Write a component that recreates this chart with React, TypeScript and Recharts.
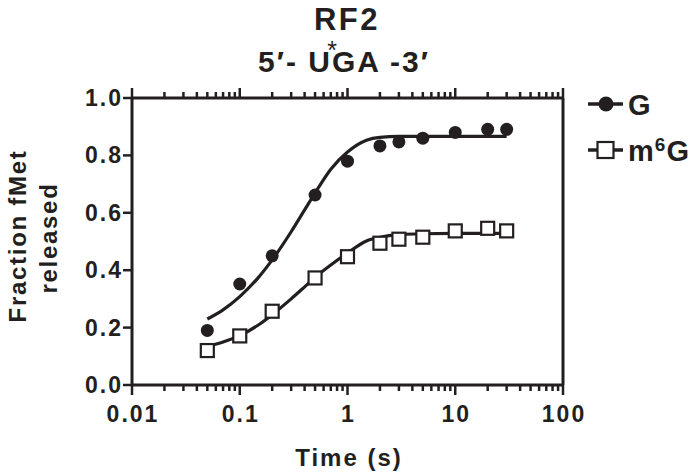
import React from 'react';
import { ComposedChart, Line, Scatter, XAxis, YAxis } from 'recharts';

const times = [0.05, 0.1, 0.2, 0.5, 1, 2, 3, 5, 10, 20, 30];
const gValues = [0.19, 0.352, 0.45, 0.662, 0.78, 0.833, 0.847, 0.86, 0.88, 0.891, 0.891];
const m6gValues = [0.12, 0.171, 0.257, 0.373, 0.447, 0.494, 0.508, 0.515, 0.537, 0.546, 0.537];

const fitTimes = [0.05, 0.07, 0.1, 0.15, 0.2, 0.3, 0.4, 0.5, 0.7, 1, 1.5, 2, 3, 5, 10, 20, 30];
const gFitValues = [0.23, 0.262, 0.308, 0.376, 0.436, 0.534, 0.61, 0.669, 0.752, 0.812, 0.853, 0.863, 0.866, 0.866, 0.866, 0.866, 0.866];
const m6gFitValues = [0.135, 0.15, 0.172, 0.21, 0.245, 0.3, 0.342, 0.375, 0.418, 0.46, 0.502, 0.515, 0.524, 0.527, 0.528, 0.528, 0.528];

const xMajorTicks = [0.01, 0.1, 1, 10, 100];
const xTickLabels = ['0.01', '0.1', '1', '10', '100'];
const xMinorTicks = [
  0.02, 0.03, 0.04, 0.05, 0.06, 0.07, 0.08, 0.09,
  0.2, 0.3, 0.4, 0.5, 0.6, 0.7, 0.8, 0.9,
  2, 3, 4, 5, 6, 7, 8, 9,
  20, 30, 40, 50, 60, 70, 80, 90,
];
const yTicks = [0, 0.2, 0.4, 0.6, 0.8, 1.0];
const yTickLabels = ['0.0', '0.2', '0.4', '0.6', '0.8', '1.0'];

const title = 'RF2';
const subtitle = '5\u2032- UGA -3\u2032';
const xTitle = 'Time (s)';
const yTitleLines = ['Fraction fMet', 'released'];
const seriesNames = ['G', 'm', '6', 'G'];

const INK = '#231f20';
const FONT = '"Liberation Sans", Arial, Helvetica, sans-serif';

const gPoints = times.map((t, i) => ({ x: t, y: gValues[i] }));
const m6gPoints = times.map((t, i) => ({ x: t, y: m6gValues[i] }));
const gFit = fitTimes.map((t, i) => ({ x: t, y: gFitValues[i] }));
const m6gFit = fitTimes.map((t, i) => ({ x: t, y: m6gFitValues[i] }));
const allXTicks = [...xMajorTicks, ...xMinorTicks].sort((a, b) => a - b);

const isMajor = (v: number) => xMajorTicks.some((m) => Math.abs(m - v) < m * 1e-6);
const majorLabel = (v: number) => {
  const i = xMajorTicks.findIndex((m) => Math.abs(m - v) < m * 1e-6);
  return i >= 0 ? xTickLabels[i] : '';
};

const BottomTick = (props: any) => {
  const { x, y, payload } = props;
  const major = isMajor(payload.value);
  return (
    <g>
      <line x1={x} x2={x} y1={y} y2={y + (major ? 10 : 6)} stroke={INK} strokeWidth={2.5} />
      {major && (
        <text x={x + 1} y={y + 37} textAnchor="middle" fill={INK} fontFamily={FONT} fontWeight="bold" fontSize={23} letterSpacing={2}>
          {majorLabel(payload.value)}
        </text>
      )}
    </g>
  );
};

const TopTick = (props: any) => {
  const { x, y, payload } = props;
  const major = isMajor(payload.value);
  return <line x1={x} x2={x} y1={y} y2={y - (major ? 10 : 6)} stroke={INK} strokeWidth={2.5} />;
};

const LeftTick = (props: any) => {
  const { x, y, payload, index } = props;
  return (
    <g>
      <line x1={x - 9} x2={x} y1={y} y2={y} stroke={INK} strokeWidth={2.5} />
      <text x={x - 9} y={y + 8} textAnchor="end" fill={INK} fontFamily={FONT} fontWeight="bold" fontSize={23} letterSpacing={2}>
        {yTickLabels[index] ?? String(payload.value)}
      </text>
    </g>
  );
};

const RightTick = (props: any) => {
  const { x, y } = props;
  return <line x1={x} x2={x + 9} y1={y} y2={y} stroke={INK} strokeWidth={2.5} />;
};

const CircleShape = (props: any) => <circle cx={props.cx} cy={props.cy} r={6.5} fill={INK} />;
const SquareShape = (props: any) => (
  <rect x={props.cx - 6.5} y={props.cy - 6.5} width={13} height={13} fill="#fff" stroke={INK} strokeWidth={2.2} />
);

export default function App() {
  return (
    <div style={{ position: 'absolute', left: 0, top: 0, width: 700, height: 474, background: '#fff' }}>
      <ComposedChart width={700} height={474} margin={{ top: 0, right: 0, bottom: 0, left: 0 }}>
        <XAxis
          xAxisId="b"
          dataKey="x"
          type="number"
          scale="log"
          domain={[0.01, 100]}
          allowDataOverflow
          ticks={allXTicks}
          interval={0}
          tickSize={0}
          tickMargin={0}
          tickLine={false}
          tick={<BottomTick />}
          axisLine={{ stroke: INK, strokeWidth: 3 }}
          height={89}
          orientation="bottom"
        />
        <XAxis
          xAxisId="t"
          dataKey="x"
          type="number"
          scale="log"
          domain={[0.01, 100]}
          allowDataOverflow
          ticks={allXTicks}
          interval={0}
          tickSize={0}
          tickMargin={0}
          tickLine={false}
          tick={<TopTick />}
          axisLine={{ stroke: INK, strokeWidth: 3 }}
          height={98}
          orientation="top"
        />
        <YAxis
          yAxisId="l"
          type="number"
          domain={[0, 1]}
          ticks={yTicks}
          interval={0}
          tickSize={0}
          tickMargin={0}
          tickLine={false}
          tick={<LeftTick />}
          axisLine={{ stroke: INK, strokeWidth: 3 }}
          width={132}
          orientation="left"
        />
        <YAxis
          yAxisId="r"
          type="number"
          domain={[0, 1]}
          ticks={yTicks}
          interval={0}
          tickSize={0}
          tickMargin={0}
          tickLine={false}
          tick={<RightTick />}
          axisLine={{ stroke: INK, strokeWidth: 3 }}
          width={137}
          orientation="right"
        />
        <Line data={gFit} xAxisId="b" yAxisId="l" dataKey="y" type="monotone" stroke={INK} strokeWidth={3.2} dot={false} isAnimationActive={false} />
        <Line data={m6gFit} xAxisId="b" yAxisId="l" dataKey="y" type="monotone" stroke={INK} strokeWidth={3.2} dot={false} isAnimationActive={false} />
        <Scatter data={gPoints} xAxisId="b" yAxisId="l" dataKey="y" shape={<CircleShape />} isAnimationActive={false} />
        <Scatter data={m6gPoints} xAxisId="b" yAxisId="l" dataKey="y" shape={<SquareShape />} isAnimationActive={false} />
      </ComposedChart>
      <svg width={700} height={474} style={{ position: 'absolute', left: 0, top: 0, pointerEvents: 'none' }}>
        <g fill={INK} fontFamily={FONT} fontWeight="bold">
          <text x={347} y={30} textAnchor="middle" fontSize={31} letterSpacing={2.5}>{title}</text>
          <text x={344} y={72} textAnchor="middle" fontSize={30} letterSpacing={2}>{subtitle}</text>
          <text x={332} y={59} textAnchor="middle" fontSize={25} fontWeight="normal">*</text>
          <text x={349} y={466} textAnchor="middle" fontSize={24} letterSpacing={2}>{xTitle}</text>
          <text transform="translate(26,236) rotate(-90)" textAnchor="middle" fontSize={24} letterSpacing={1.7}>{yTitleLines[0]}</text>
          <text transform="translate(57,238) rotate(-90)" textAnchor="middle" fontSize={24} letterSpacing={1.7}>{yTitleLines[1]}</text>
          {/* legend */}
          <line x1={588} x2={623} y1={104} y2={104} stroke={INK} strokeWidth={3.5} />
          <circle cx={606} cy={104} r={7.5} fill={INK} />
          <text x={628} y={115} fontSize={29} letterSpacing={1}>{seriesNames[0]}</text>
          <line x1={588} x2={623} y1={150} y2={150} stroke={INK} strokeWidth={3.5} />
          <rect x={597.5} y={142} width={16} height={16} fill="#fff" stroke={INK} strokeWidth={2.2} />
          <text x={628} y={161} fontSize={29} letterSpacing={1}>
            {seriesNames[1]}
            <tspan fontSize={19} dy={-10}>{seriesNames[2]}</tspan>
            <tspan dy={10}>{seriesNames[3]}</tspan>
          </text>
        </g>
      </svg>
    </div>
  );
}
